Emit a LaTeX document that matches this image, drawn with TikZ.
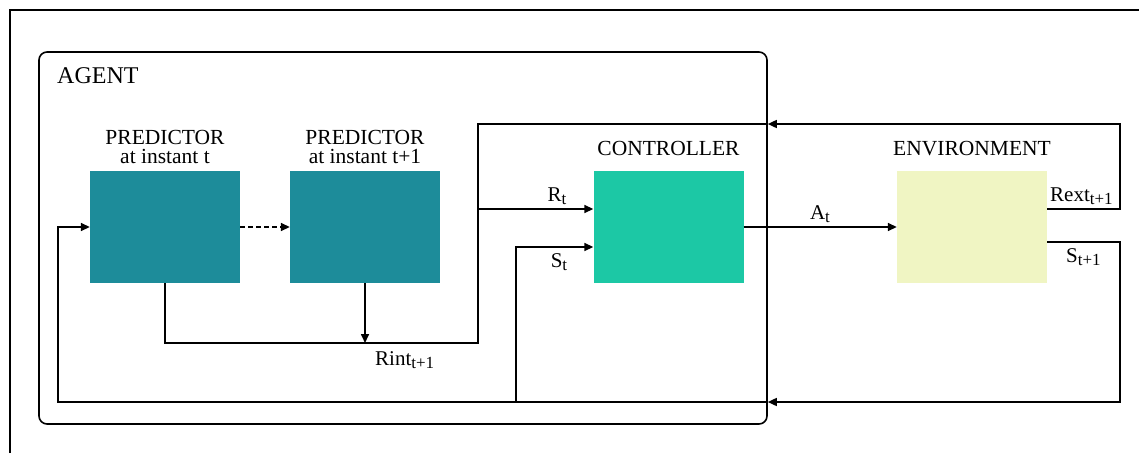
\documentclass[tikz,border=0pt]{standalone}
\usepackage{fontspec}
\setmainfont{Liberation Serif}
\usetikzlibrary{arrows.meta,positioning}
\definecolor{predteal}{RGB}{29,140,154}
\definecolor{ctrlgreen}{RGB}{28,200,165}
\definecolor{envyellow}{RGB}{240,245,195}

% lowered subscript, as in the figure
\newcommand{\sigsub}[1]{\raisebox{-3pt}{\fontsize{17}{17}\selectfont #1}}

\tikzset{
  block/.style={minimum width=150pt, minimum height=112pt, inner sep=0pt},
  flow/.style={line width=1.6pt},
  flowarr/.style={flow, -{Triangle[length=9pt,width=8pt]}},
  blocktitle/.style={font=\fontsize{21.5}{18.5}\selectfont, align=center, inner sep=0pt},
  sig/.style={font=\fontsize{21}{22}\selectfont, inner sep=0pt},
}

\begin{document}
\begin{tikzpicture}[x=1pt,y=-1pt]
\useasboundingbox (0,0) rectangle (1139,453);

% outer frame
\draw[line width=1.5pt] (10,453) -- (10,10) -- (1139,10);

% agent
\node[draw, line width=1.6pt, rounded corners=8pt, minimum width=728pt, minimum height=372pt, inner sep=0pt] (agent) at (403,238) {};
\node[font=\fontsize{24}{28}\selectfont, anchor=base west, inner sep=0pt] (agenttitle) at (57,83) {AGENT};

% blocks
\node[block, fill=predteal] (pred1) at (165,227) {};
\node[block, fill=predteal] (pred2) at (365,227) {};
\node[block, fill=ctrlgreen] (ctrl) at (668.5,227) {};
\node[block, fill=envyellow] (env) at (972,227) {};

\node[blocktitle, above=7pt of pred1] (pred1title) {PREDICTOR\\at instant t};
\node[blocktitle, above=7pt of pred2] (pred2title) {PREDICTOR\\at instant t+1};
\node[blocktitle, above=15pt of ctrl] (ctrltitle) {CONTROLLER};
\node[blocktitle, above=15pt of env] (envtitle) {ENVIRONMENT};

% corners of the loops
\coordinate (rbus) at (478,343);
\coordinate (rtop) at (478,124);
\coordinate (rin) at ([yshift=18pt]ctrl.west);
\coordinate (sin) at ([yshift=-20pt]ctrl.west);
\coordinate (rextout) at ([yshift=18pt]env.east);
\coordinate (soutenv) at ([yshift=-15pt]env.east);
\coordinate (fbtop) at (1120,124);
\coordinate (fbbot) at (1120,402);
\coordinate (agentin) at (agent.east |- fbtop);
\coordinate (agentsin) at (agent.east |- fbbot);
\coordinate (sleft) at (58,402);
\coordinate (sbranch) at (516,402);

% connectors
\draw[flowarr, dash pattern=on 5pt off 3pt] (pred1.east) -- (pred2.west);
\draw[flow] (pred1.south) |- (rbus) -- (rtop) -- (agentin);
\draw[flowarr] (pred2.south) -- (pred2.south |- rbus);
\draw[flowarr] (rbus |- rin) -- (rin);
\draw[flowarr] (sbranch) |- (sin);
\draw[flowarr] (ctrl.east) -- (env.west);
\draw[flowarr] (rextout) -| (fbtop) -- (agentin);
\draw[flowarr] (soutenv) -| (fbbot) -- (agentsin);
\draw[flowarr] (agentsin) -- (sleft) |- (pred1.west);

% signal labels
\node[sig, anchor=base] (rtlabel) at (557,201) {R\sigsub{t}};
\node[sig, anchor=base] (stlabel) at (559,267) {S\sigsub{t}};
\node[sig, anchor=base] (atlabel) at (820,219) {A\sigsub{t}};
\node[sig, anchor=base west] (rextlabel) at (1050,201) {Rext\sigsub{t+1}};
\node[sig, anchor=base west] (snextlabel) at (1066,262) {S\sigsub{t+1}};
\node[sig, anchor=base west] (rintlabel) at (375,365) {Rint\sigsub{t+1}};
\end{tikzpicture}
\end{document}
